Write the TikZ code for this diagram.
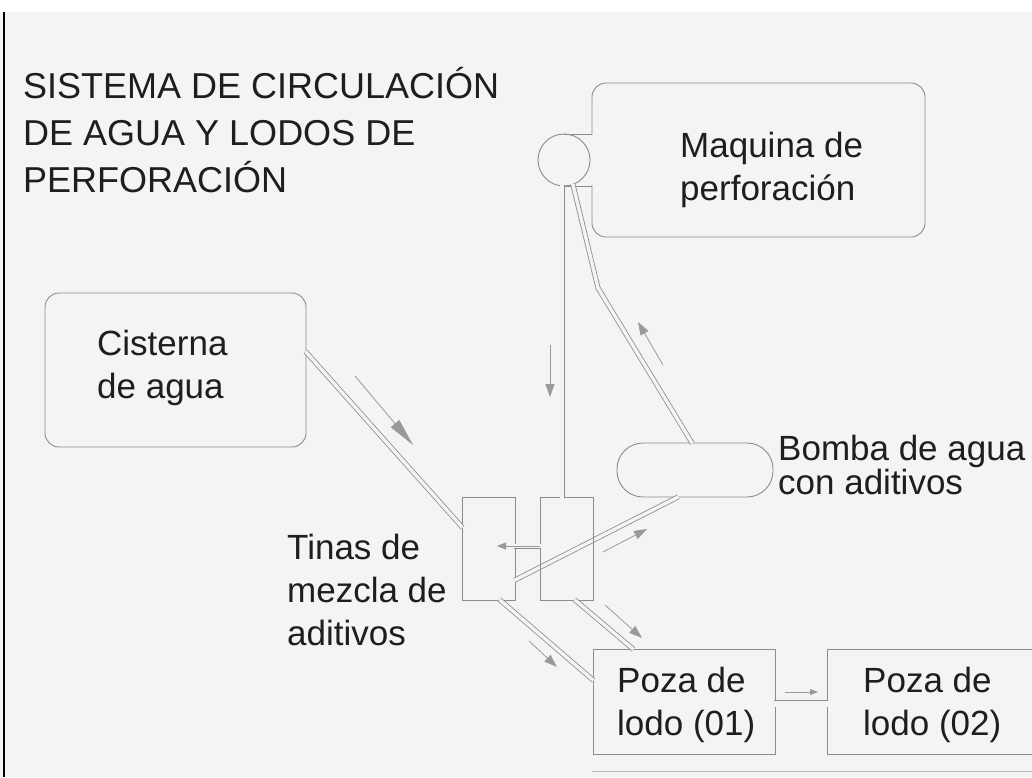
\documentclass[tikz,border=0pt]{standalone}
\usepackage{fontspec}
\setmainfont{Liberation Sans}
\usepackage{tikz}
\usetikzlibrary{arrows.meta}

\definecolor{fondo}{HTML}{F4F4F4}
\definecolor{linea}{HTML}{8C8C8C}
\definecolor{gris}{HTML}{9A9A9A}
\definecolor{tinta}{HTML}{1E1E1E}

\begin{document}
\begin{tikzpicture}[x=1pt, y=-1pt,
  caja/.style = {draw=linea, line width=0.9pt, inner sep=0pt, outer sep=0pt},
  tubo/.style = {draw=linea, line width=0.8pt, double=fondo,
    double distance=3.4pt, shorten <=-0.6pt, shorten >=-0.6pt},
  flecha/.style = {draw=gris, line width=0.8pt,
    -{Triangle[length=13pt, width=9pt, fill=gris]}},
  texto/.style = {anchor=base west, align=left, inner sep=0pt,
    text=tinta, font=\fontsize{35}{43}\selectfont}]
  \useasboundingbox (0,0) rectangle (1032,777);
  % hoja
  \fill[white] (0,0) rectangle (1032,777);
  \fill[fondo] (0,12) rectangle (1032,777);
  \draw[black, line width=2.5pt] (4,12) -- (4,777);
  \draw[linea!60, line width=0.8pt] (592,771) -- (1032,771);

  % cajas
  \node[caja, rounded corners=14pt, minimum width=261pt, minimum height=154pt]
    (cist) at (175.5,370) {};
  \node[caja, rounded corners=14pt, minimum width=333pt, minimum height=154pt]
    (maq) at (758.5,160) {};
  \node[caja, circle, minimum size=52pt] (cab) at (564,160) {};
  \node[caja, rounded corners=26pt, minimum width=156pt, minimum height=54pt]
    (bomba) at (695,470) {};
  \node[caja, minimum width=53pt, minimum height=103pt] (tinaA) at (488.5,548.5) {};
  \node[caja, minimum width=182pt, minimum height=105pt] (poza1) at (684,701.5) {};
  \node[caja, minimum width=218pt, minimum height=105pt] (poza2) at (936,701.5) {};

  % union cabezal - maquina
  \fill[fondo] ([xshift=-1pt, yshift=-0.6pt]cab.north -| maq.west)
    rectangle ([xshift=1pt, yshift=0.6pt]cab.south -| maq.west);
  \draw[draw=linea, line width=0.9pt] (cab.north) -- (cab.north -| maq.west);
  \draw[draw=linea, line width=0.9pt] (cab.south) -- (cab.south -| maq.west);

  % tuberias
  \draw[tubo] ([yshift=-31.5pt]tinaA.east) -- ([xshift=-17pt]bomba.south);
  \node[caja, minimum width=53pt, minimum height=103pt] (tinaB) at (566.5,548.5) {};
  \coordinate (codo) at (598,288);
  \draw[tubo] ([xshift=-2pt]cab.south) -- ([xshift=-2pt]cab.south |- tinaB.north);
  \draw[tubo] (cab.-70) -- (codo) -- ([xshift=-3pt]bomba.north);
  \draw[tubo] ([yshift=18pt]cist.east) -- ([yshift=21.5pt]tinaA.west);
  \draw[tubo] ([yshift=2.5pt]tinaB.west) -- ([yshift=2.5pt]tinaA.east);
  \draw[tubo] ([xshift=11.5pt]tinaA.south) -- ([yshift=21.5pt]poza1.west);
  \draw[tubo] ([xshift=8.5pt]tinaB.south) -- ([xshift=-51pt]poza1.north);
  \draw[tubo, double distance=6pt] ([yshift=-2pt]poza1.east) -- ([yshift=-2pt]poza2.west);

  % sentido del flujo
  \draw[flecha, -{Triangle[length=28pt, width=11pt, fill=gris]}] (355,376) -- (413,445);
  \draw[flecha] (550,345) -- (550,397);
  \draw[flecha] (663,365) -- (638,322);
  \draw[flecha, -{Triangle[length=9pt, width=7pt, fill=gris]}] (540,546) -- (497,546);
  \draw[flecha] (603,552) -- (647,529);
  \draw[flecha] (605,605) -- (642,638);
  \draw[flecha] (529,641) -- (557,667);
  \draw[flecha, -{Triangle[length=8pt, width=6pt, fill=gris]}] (785,692) -- (818,692);

  % textos (anclados en la linea base de la ultima linea)
  \node[texto, font=\fontsize{36}{47}\selectfont] (titulo) at (23,192)
    {SISTEMA DE CIRCULACIÓN\\DE AGUA Y LODOS DE\\PERFORACIÓN};
  \node[texto] (tcist) at (97,398) {Cisterna\\de agua};
  \node[texto] (tmaq) at (680,200) {Maquina de\\perforación};
  \node[texto, font=\fontsize{35}{34}\selectfont] (tbomba) at (778,494)
    {Bomba de agua\\con aditivos};
  \node[texto] (ttinas) at (287,645) {Tinas de\\mezcla de\\aditivos};
  \node[texto] (tpoza1) at (617,735) {Poza de\\lodo (01)};
  \node[texto] (tpoza2) at (863,735) {Poza de\\lodo (02)};
\end{tikzpicture}
\end{document}
